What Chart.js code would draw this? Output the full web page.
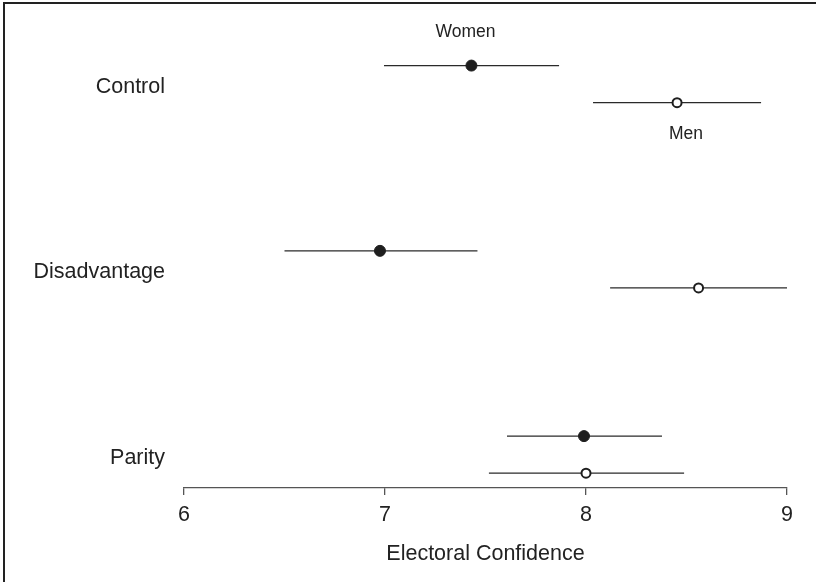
<!DOCTYPE html>
<html>
<head>
<meta charset="utf-8">
<script src="https://cdn.jsdelivr.net/npm/chart.js@4.4.1/dist/chart.umd.min.js"></script>
<style>
    html, body { margin: 0; padding: 0; background: #fff; }
    #wrap { width: 816px; height: 582px; position: relative; }
</style>
</head>
<body>
<div id="wrap"><canvas id="chart" width="816" height="582"></canvas></div>
<script>
// data
let conditions = ["Control", "Disadvantage", "Parity"];
let womenMean = [7.43, 6.975, 7.99];
let womenLow = [6.995, 6.50, 7.607];
let womenHigh = [7.866, 7.46, 8.378];
let menMean = [8.453, 8.56, 8.0];
let menLow = [8.035, 8.12, 7.517];
let menHigh = [8.871, 9.0, 8.488];
let xTicks = [6, 7, 8, 9];

let inkColor = "#1e1e1e";
let lineColor = "#2a2a2a";
let fontFamily = "'Liberation Sans', Arial, sans-serif";
let shift = 0.1;

let datasets = [];

// error bars
conditions.forEach(function (c, i) {
    datasets.push({
        data: [{ x: womenLow[i], y: i - shift }, { x: womenHigh[i], y: i - shift }],
        showLine: true, borderColor: lineColor, borderWidth: 1.3,
        pointRadius: 0, order: 2
    });
    datasets.push({
        data: [{ x: menLow[i], y: i + shift }, { x: menHigh[i], y: i + shift }],
        showLine: true, borderColor: lineColor, borderWidth: 1.3,
        pointRadius: 0, order: 2
    });
});

// means
datasets.push({
    label: "Women",
    data: womenMean.map(function (v, i) { return { x: v, y: i - shift }; }),
    pointRadius: 5.5, pointBackgroundColor: inkColor, pointBorderColor: inkColor,
    pointBorderWidth: 1, order: 0
});
datasets.push({
    label: "Men",
    data: menMean.map(function (v, i) { return { x: v, y: i + shift }; }),
    pointRadius: 4.5, pointBackgroundColor: "#fff", pointBorderColor: inkColor,
    pointBorderWidth: 2, order: 0
});

// frame lines, condition names, Women/Men labels
let extras = {
    id: "extras",
    afterDraw: function (chart) {
        let c = chart.ctx;
        let xs = chart.scales.x, ys = chart.scales.y;
        c.save();
        c.strokeStyle = "#222";
        c.lineWidth = 2;
        c.beginPath();
        c.moveTo(4, 582);
        c.lineTo(4, 3);
        c.lineTo(816, 3);
        c.stroke();

        c.fillStyle = "#222";
        c.textBaseline = "middle";

        c.font = "21.5px " + fontFamily;
        c.textAlign = "right";
        conditions.forEach(function (name, i) {
            c.fillText(name, xs.left - 19, ys.getPixelForValue(i) + 3);
        });

        c.font = "17.5px " + fontFamily;
        c.textAlign = "center";
        c.fillText("Women", xs.getPixelForValue(womenMean[0]) - 6, ys.getPixelForValue(0 - shift) - 33);
        c.fillText("Men", xs.getPixelForValue(menMean[0]) + 9, ys.getPixelForValue(0 + shift) + 32);
        c.restore();
    }
};

new Chart(document.getElementById("chart"), {
    type: "scatter",
    data: { datasets: datasets },
    options: {
        responsive: false,
        animation: false,
        layout: { padding: { left: 4, right: 29, top: 10, bottom: 15 } },
        plugins: { legend: { display: false }, tooltip: { enabled: false } },
        scales: {
            x: {
                type: "linear",
                min: 6, max: 9,
                afterBuildTicks: function (s) { s.ticks = xTicks.map(function (v) { return { value: v }; }); },
                afterFit: function (s) { s.height = 79; },
                grid: { drawOnChartArea: false, drawTicks: true, tickLength: 7, color: "#555", lineWidth: 1.3 },
                border: { display: true, color: "#555", width: 1.3 },
                ticks: { color: "#222", padding: 7, font: { family: fontFamily, size: 21.5 } },
                title: {
                    display: true, text: "Electoral Confidence", color: "#222",
                    padding: { top: 8, bottom: 0 },
                    font: { family: fontFamily, size: 21.5 }
                }
            },
            y: {
                type: "linear",
                reverse: true,
                min: -0.4, max: 2.18,
                afterFit: function (s) { s.width = 180; },
                grid: { display: false, drawTicks: false },
                border: { display: false },
                ticks: { display: false }
            }
        }
    },
    plugins: [extras]
});
</script>
</body>
</html>
